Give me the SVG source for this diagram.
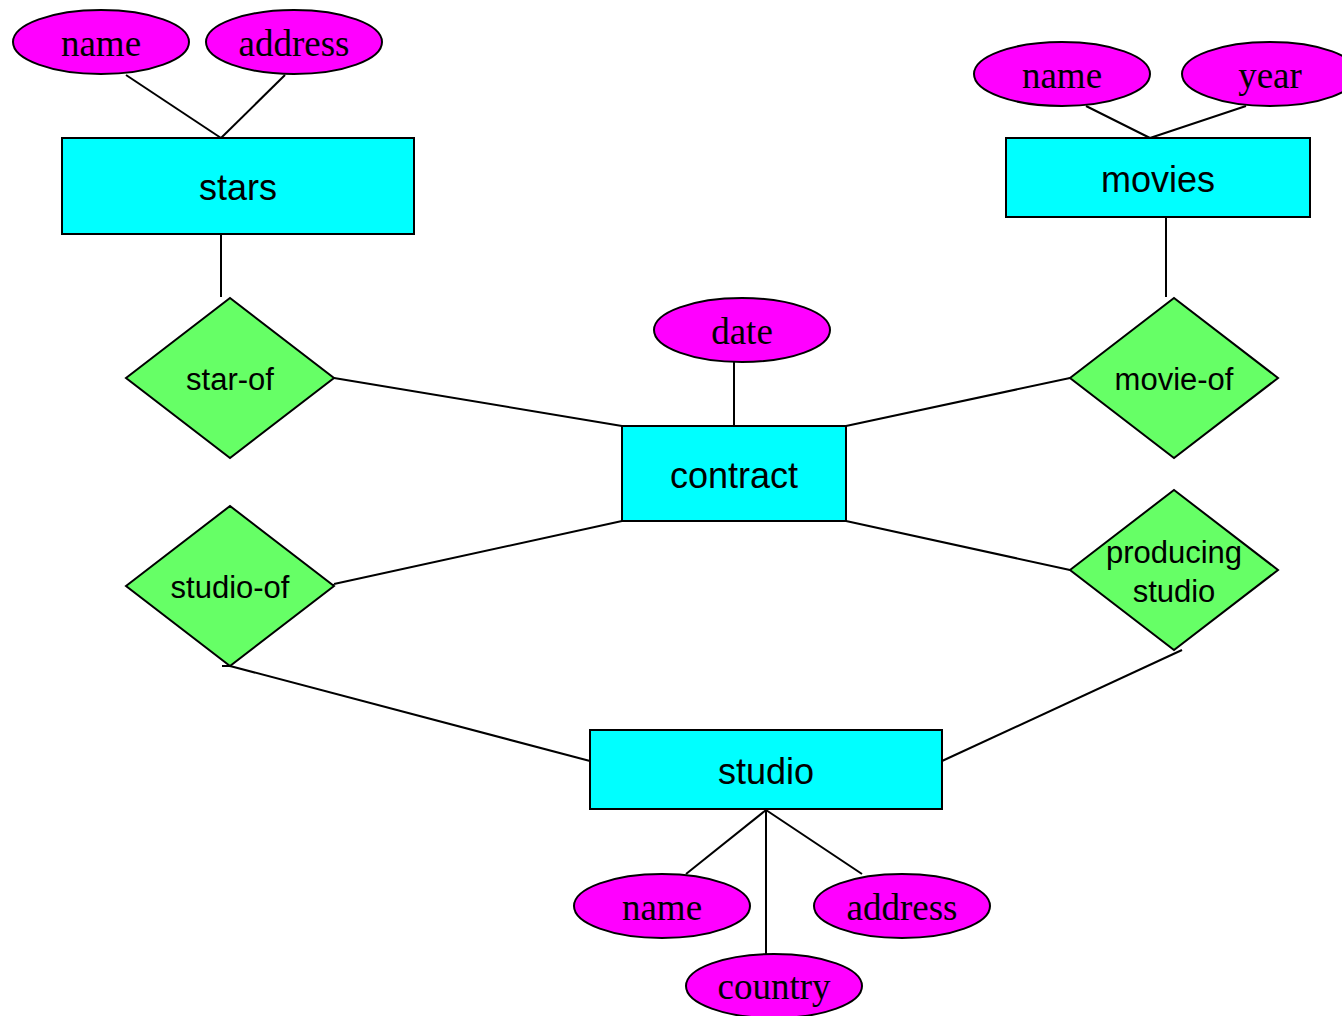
<svg xmlns="http://www.w3.org/2000/svg" width="1342" height="1016" viewBox="0 0 1342 1016">
<style>
.ent{fill:#00ffff;stroke:#000;stroke-width:2}
.att{fill:#ff00ff;stroke:#000;stroke-width:2}
.rel{fill:#66ff66;stroke:#000;stroke-width:2}
.et{font-family:"Liberation Sans",Arial,sans-serif;font-size:36px;text-anchor:middle;fill:#000}
.rt{font-family:"Liberation Sans",Arial,sans-serif;font-size:31px;text-anchor:middle;fill:#000}
.at{font-family:"Liberation Serif","Times New Roman",serif;font-size:37px;text-anchor:middle;fill:#000}
.ln{stroke:#000;stroke-width:2;fill:none}
</style>
<rect width="1342" height="1016" fill="#fff"/>
<g id="connectors">
<line class="ln" x1="126" y1="75" x2="221" y2="138"/>
<line class="ln" x1="285" y1="75" x2="221" y2="138"/>
<line class="ln" x1="221" y1="234" x2="221" y2="297"/>
<line class="ln" x1="1086" y1="106" x2="1150" y2="138"/>
<line class="ln" x1="1246" y1="106" x2="1150" y2="138"/>
<line class="ln" x1="1166" y1="217" x2="1166" y2="297"/>
<line class="ln" x1="734" y1="362" x2="734" y2="426"/>
<line class="ln" x1="334" y1="378" x2="622" y2="426"/>
<line class="ln" x1="1070" y1="378" x2="846" y2="426"/>
<line class="ln" x1="622" y1="521" x2="334" y2="584"/>
<line class="ln" x1="318" y1="585" x2="334" y2="585"/>
<line class="ln" x1="846" y1="521" x2="1070" y2="570"/>
<line class="ln" x1="222" y1="666" x2="230" y2="666"/>
<line class="ln" x1="230" y1="666" x2="590" y2="761"/>
<line class="ln" x1="1182" y1="650" x2="942" y2="761"/>
<line class="ln" x1="766" y1="810" x2="686" y2="874"/>
<line class="ln" x1="766" y1="810" x2="766" y2="954"/>
<line class="ln" x1="766" y1="810" x2="862" y2="874"/>
</g>
<g id="stars"><rect class="ent" x="62" y="138" width="352" height="96"/><text class="et" x="238" y="200">stars</text></g>
<g id="stars-name"><ellipse class="att" cx="101" cy="42" rx="88" ry="32"/><text class="at" x="101" y="56">name</text></g>
<g id="stars-address"><ellipse class="att" cx="294" cy="42" rx="88" ry="32"/><text class="at" x="294" y="56">address</text></g>
<g id="movies"><rect class="ent" x="1006" y="138" width="304" height="79"/><text class="et" x="1158" y="192">movies</text></g>
<g id="movies-name"><ellipse class="att" cx="1062" cy="74" rx="88" ry="32"/><text class="at" x="1062" y="88">name</text></g>
<g id="movies-year"><ellipse class="att" cx="1270" cy="74" rx="88" ry="32"/><text class="at" x="1270" y="88">year</text></g>
<g id="star-of"><polygon class="rel" points="126,378 230,298 334,378 230,458"/><text class="rt" x="230" y="390">star-of</text></g>
<g id="movie-of"><polygon class="rel" points="1070,378 1174,298 1278,378 1174,458"/><text class="rt" x="1174" y="390">movie-of</text></g>
<g id="date"><ellipse class="att" cx="742" cy="330" rx="88" ry="32"/><text class="at" x="742" y="344">date</text></g>
<g id="contract"><rect class="ent" x="622" y="426" width="224" height="95"/><text class="et" x="734" y="488">contract</text></g>
<g id="studio-of"><polygon class="rel" points="126,586 230,506 334,586 230,666"/><text class="rt" x="230" y="598">studio-of</text></g>
<g id="producing-studio"><polygon class="rel" points="1070,570 1174,490 1278,570 1174,650"/><text class="rt" x="1174" y="563">producing</text><text class="rt" x="1174" y="602">studio</text></g>
<g id="studio"><rect class="ent" x="590" y="730" width="352" height="79"/><text class="et" x="766" y="784">studio</text></g>
<g id="studio-name"><ellipse class="att" cx="662" cy="906" rx="88" ry="32"/><text class="at" x="662" y="920">name</text></g>
<g id="studio-address"><ellipse class="att" cx="902" cy="906" rx="88" ry="32"/><text class="at" x="902" y="920">address</text></g>
<g id="studio-country"><ellipse class="att" cx="774" cy="986" rx="88" ry="32"/><text class="at" x="774" y="999">country</text></g>
</svg>
